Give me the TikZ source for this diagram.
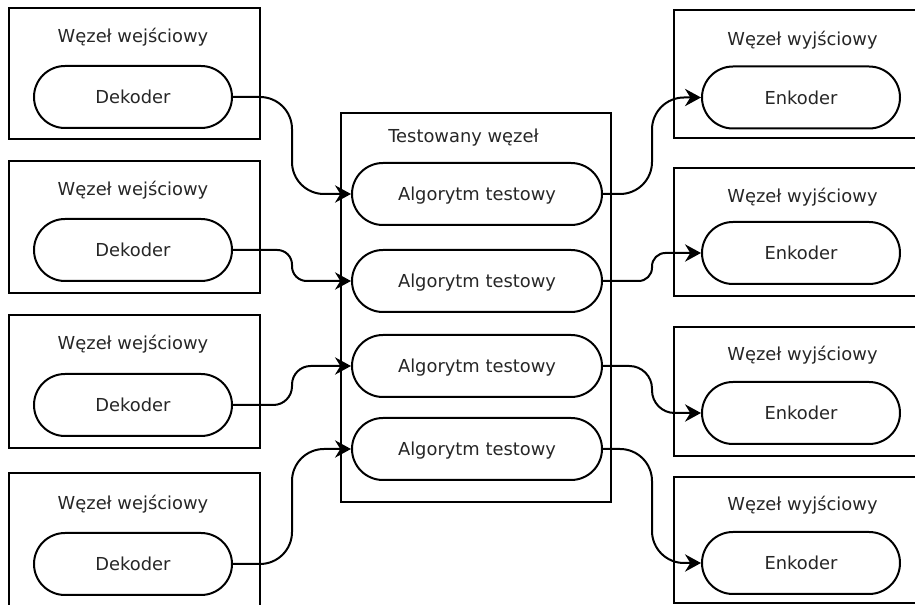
\documentclass[tikz,border=0pt]{standalone}
\usepackage{fontspec}
\setmainfont{DejaVu Sans}
\usetikzlibrary{arrows.meta,calc}
\begin{document}
\begin{tikzpicture}[x=0.75pt,y=-0.75pt,
  every node/.style={font=\fontsize{13.4}{15}\selectfont, text=black!85, text depth=0pt},
  frame/.style={draw=black, line width=2pt, minimum width=188.25pt, inner sep=0pt},
  pill/.style={draw=black, line width=1.5pt, rounded corners=23.25pt,
    minimum width=148.5pt, minimum height=46.5pt, inner sep=0pt},
  algo/.style={pill, minimum width=187.5pt},
  link/.style={line width=1.5pt, -{Stealth[length=12pt,width=13pt,inset=4pt]}}]

\useasboundingbox (0,0) rectangle (915,605);
\fill[white] (0,0) rectangle (915,605);
\clip (0,0) rectangle (915,605);

% input nodes
\node[frame, minimum height=98.25pt]  (L1) at (134.5,73.5) {};
\node[frame, minimum height=99pt]     (L2) at (134.5,227) {};
\node[frame, minimum height=99.75pt]  (L3) at (134.5,381.5) {};
\node[frame, minimum height=110.25pt] (L4) at (134.5,546.5) {};
\node (tl1) at (133,35)  {Węzeł wejściowy};
\node (tl2) at (133,188) {Węzeł wejściowy};
\node (tl3) at (133,342) {Węzeł wejściowy};
\node (tl4) at (133,502) {Węzeł wejściowy};
\node[pill] (d1) at (133,97)  {Dekoder};
\node[pill] (d2) at (133,250) {Dekoder};
\node[pill] (d3) at (133,405) {Dekoder};
\node[pill] (d4) at (133,564) {Dekoder};

% tested node
\node[frame, minimum width=202.5pt, minimum height=291.75pt] (T) at (476,307.5) {};
\node (tt) at (463.5,136) {Testowany węzeł};
\node[algo] (a1) at (477,194) {Algorytm testowy};
\node[algo] (a2) at (477,281) {Algorytm testowy};
\node[algo] (a3) at (477,366) {Algorytm testowy};
\node[algo] (a4) at (477,449) {Algorytm testowy};

% output nodes
\node[frame, minimum height=96pt]    (R1) at (799.5,74) {};
\node[frame, minimum height=96pt]    (R2) at (799.5,232) {};
\node[frame, minimum height=96.75pt] (R3) at (799.5,391.5) {};
\node[frame, minimum height=94.5pt]  (R4) at (799.5,540) {};
\node (tr1) at (802.5,38)  {Węzeł wyjściowy};
\node (tr2) at (802.5,195) {Węzeł wyjściowy};
\node (tr3) at (802.5,353) {Węzeł wyjściowy};
\node (tr4) at (802.5,503) {Węzeł wyjściowy};
\node[pill] (e1) at (801,97.5) {Enkoder};
\node[pill] (e2) at (801,253)  {Enkoder};
\node[pill] (e3) at (801,413)  {Enkoder};
\node[pill] (e4) at (801,563)  {Enkoder};

% bend points halfway between the linked nodes
\coordinate (m1) at ($(d1.east)!0.5!(a1.west)$);
\coordinate (m2) at ($(d2.east)!0.5!(a2.west)$);
\coordinate (m3) at ($(d3.east)!0.5!(a3.west)$);
\coordinate (m4) at ($(d4.east)!0.5!(a4.west)$);
\coordinate (m5) at ($(a1.east)!0.5!(e1.west)$);
\coordinate (m6) at ($(a2.east)!0.5!(e2.west)$);
\coordinate (m7) at ($(a3.east)!0.5!(e3.west)$);
\coordinate (m8) at ($(a4.east)!0.5!(e4.west)$);

% decoders to test algorithms
\draw[link, rounded corners=24pt]   (d1.east) -- (m1 |- d1.east) -- (m1 |- a1.west) -- (a1.west);
\draw[link, rounded corners=11pt]   (d2.east) -- (m2 |- d2.east) -- (m2 |- a2.west) -- (a2.west);
\draw[link, rounded corners=14pt]   (d3.east) -- (m3 |- d3.east) -- (m3 |- a3.west) -- (a3.west);
\draw[link, rounded corners=24pt]   (d4.east) -- (m4 |- d4.east) -- (m4 |- a4.west) -- (a4.west);

% test algorithms to encoders
\draw[link, rounded corners=24pt]   (a1.east) -- (m5 |- a1.east) -- (m5 |- e1.west) -- (e1.west);
\draw[link, rounded corners=10pt]   (a2.east) -- (m6 |- a2.east) -- (m6 |- e2.west) -- (e2.west);
\draw[link, rounded corners=17pt]   (a3.east) -- (m7 |- a3.east) -- (m7 |- e3.west) -- (e3.west);
\draw[link, rounded corners=24pt]   (a4.east) -- (m8 |- a4.east) -- (m8 |- e4.west) -- (e4.west);
\end{tikzpicture}
\end{document}
